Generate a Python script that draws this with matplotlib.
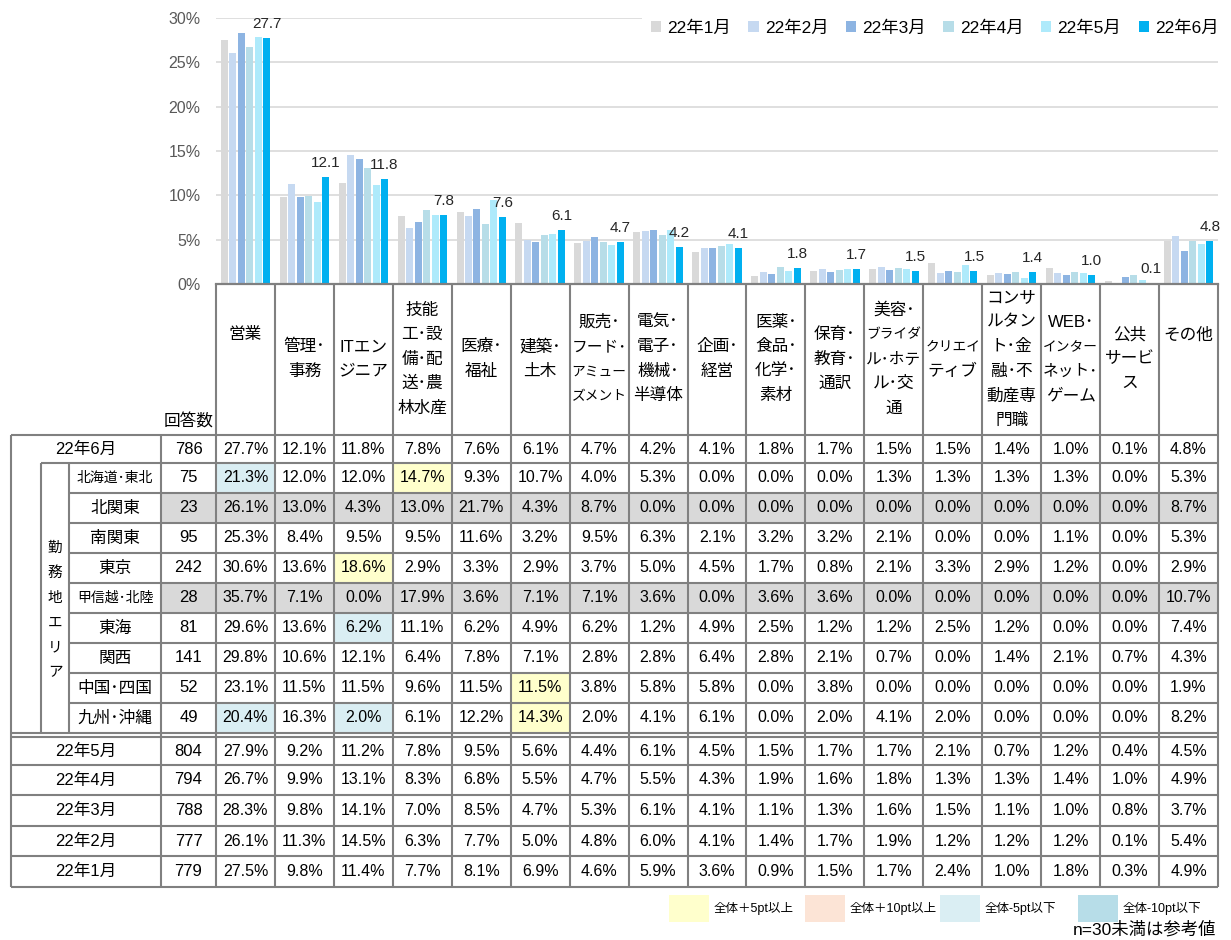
import numpy as np
import matplotlib
matplotlib.use("Agg")
import matplotlib.pyplot as plt
from matplotlib.patches import Rectangle

plt.rcParams['font.family'] = ['Liberation Sans', 'Noto Sans CJK JP']

# ---- data ----
categories = ["営業", "管理･\n事務", "ITエン\nジニア", "技能\n工･設\n備･配\n送･農\n林水産",
              "医療･\n福祉", "建築･\n土木", "販売･\nフード･\nアミュー\nズメント",
              "電気･\n電子･\n機械･\n半導体", "企画･\n経営", "医薬･\n食品･\n化学･\n素材",
              "保育･\n教育･\n通訳", "美容･\nブライダ\nル･ホテ\nル･交\n通", "クリエイ\nティブ",
              "コンサ\nルタン\nト･金\n融･不\n動産専\n門職", "WEB･\nインター\nネット･\nゲーム",
              "公共\nサービ\nス", "その他"]

months = ["22年1月", "22年2月", "22年3月", "22年4月", "22年5月", "22年6月"]
month_n = [779, 777, 788, 794, 804, 786]
jan = [27.5, 9.8, 11.4, 7.7, 8.1, 6.9, 4.6, 5.9, 3.6, 0.9, 1.5, 1.7, 2.4, 1.0, 1.8, 0.3, 4.9]
feb = [26.1, 11.3, 14.5, 6.3, 7.7, 5.0, 4.8, 6.0, 4.1, 1.4, 1.7, 1.9, 1.2, 1.2, 1.2, 0.1, 5.4]
mar = [28.3, 9.8, 14.1, 7.0, 8.5, 4.7, 5.3, 6.1, 4.1, 1.1, 1.3, 1.6, 1.5, 1.1, 1.0, 0.8, 3.7]
apr = [26.7, 9.9, 13.1, 8.3, 6.8, 5.5, 4.7, 5.5, 4.3, 1.9, 1.6, 1.8, 1.3, 1.3, 1.4, 1.0, 4.9]
may = [27.9, 9.2, 11.2, 7.8, 9.5, 5.6, 4.4, 6.1, 4.5, 1.5, 1.7, 1.7, 2.1, 0.7, 1.2, 0.4, 4.5]
jun = [27.7, 12.1, 11.8, 7.8, 7.6, 6.1, 4.7, 4.2, 4.1, 1.8, 1.7, 1.5, 1.5, 1.4, 1.0, 0.1, 4.8]
monthly = [jan, feb, mar, apr, may, jun]
colors = ["#D9D9D9", "#C6D9F1", "#8DB4E2", "#B7DDE8", "#AEEAFB", "#00B0F0"]

regions = ["北海道･東北", "北関東", "南関東", "東京", "甲信越･北陸", "東海", "関西", "中国･四国", "九州･沖縄"]
region_n = [75, 23, 95, 242, 28, 81, 141, 52, 49]
region_vals = [
    [21.3, 12.0, 12.0, 14.7, 9.3, 10.7, 4.0, 5.3, 0.0, 0.0, 0.0, 1.3, 1.3, 1.3, 1.3, 0.0, 5.3],
    [26.1, 13.0, 4.3, 13.0, 21.7, 4.3, 8.7, 0.0, 0.0, 0.0, 0.0, 0.0, 0.0, 0.0, 0.0, 0.0, 8.7],
    [25.3, 8.4, 9.5, 9.5, 11.6, 3.2, 9.5, 6.3, 2.1, 3.2, 3.2, 2.1, 0.0, 0.0, 1.1, 0.0, 5.3],
    [30.6, 13.6, 18.6, 2.9, 3.3, 2.9, 3.7, 5.0, 4.5, 1.7, 0.8, 2.1, 3.3, 2.9, 1.2, 0.0, 2.9],
    [35.7, 7.1, 0.0, 17.9, 3.6, 7.1, 7.1, 3.6, 0.0, 3.6, 3.6, 0.0, 0.0, 0.0, 0.0, 0.0, 10.7],
    [29.6, 13.6, 6.2, 11.1, 6.2, 4.9, 6.2, 1.2, 4.9, 2.5, 1.2, 1.2, 2.5, 1.2, 0.0, 0.0, 7.4],
    [29.8, 10.6, 12.1, 6.4, 7.8, 7.1, 2.8, 2.8, 6.4, 2.8, 2.1, 0.7, 0.0, 1.4, 2.1, 0.7, 4.3],
    [23.1, 11.5, 11.5, 9.6, 11.5, 11.5, 3.8, 5.8, 5.8, 0.0, 3.8, 0.0, 0.0, 0.0, 0.0, 0.0, 1.9],
    [20.4, 16.3, 2.0, 6.1, 12.2, 14.3, 2.0, 4.1, 6.1, 0.0, 2.0, 4.1, 2.0, 0.0, 0.0, 0.0, 8.2],
]
hl_labels = ["全体＋5pt以上", "全体＋10pt以上", "全体-5pt以下", "全体-10pt以下"]
hl_colors = ["#FFFFCC", "#FCE4D6", "#DAEEF3", "#B7DDE8"]

# ---- layout (pixels) ----
W, H = 1231, 940
x_left, x_area, x_lbl, x_n, x_c0, x_right = 11, 41, 69, 161, 216, 1218
ncat = len(categories)
cw = (x_right - x_c0) / ncat
y_axis, y_top = 284, 18
top_edges = [435, 463, 493, 523, 553, 583, 613, 643, 673, 703, 733]
bot_edges = [737, 765, 795, 826, 856, 887]
LC = "#808080"

fig = plt.figure(figsize=(W / 100, H / 100), dpi=100)
tab = fig.add_axes([0, 0, 1, 1])
tab.set_xlim(0, W)
tab.set_ylim(H, 0)
tab.axis('off')

# ---- bar chart ----
ax = fig.add_axes([x_c0 / W, 1 - y_axis / H, (x_right - x_c0) / W, (y_axis - y_top) / H])
ax.set_facecolor('none')
x = np.arange(ncat)
step, bw = 0.144, 0.119
for j, (vals, c, lab) in enumerate(zip(monthly, colors, months)):
    ax.bar(x + (j - 2.5) * step, vals, bw, color=c, label=lab, zorder=2)
for i, v in enumerate(jun):
    ax.annotate(f"{v:.1f}", (x[i] + 2.5 * step, v), xytext=(0, 5), textcoords='offset points',
                ha='center', va='bottom', fontsize=11, color="#262626")
ax.set_xlim(-0.5, ncat - 0.5)
ax.set_ylim(0, 30)
ax.set_yticks(range(0, 31, 5))
ax.set_yticklabels([f"{t}%" for t in range(0, 31, 5)])
ax.tick_params(axis='y', length=0, pad=11, labelsize=11.5, labelcolor="#595959")
ax.set_xticks([])
ax.grid(axis='y', color="#D9D9D9", lw=1.2)
ax.set_axisbelow(True)
for s in ['top', 'left', 'right']:
    ax.spines[s].set_visible(False)
ax.spines['bottom'].set_color(LC)
ax.spines['bottom'].set_linewidth(1.6)
leg = ax.legend(loc='center right', bbox_to_anchor=(1236 / W, 1 - 28 / H), bbox_transform=fig.transFigure,
                ncol=6, frameon=True, fontsize=12.5, handlelength=0.6, handleheight=0.6,
                handletextpad=0.35, columnspacing=1.0, borderpad=0.5)
leg.get_frame().set_facecolor('white')
leg.get_frame().set_edgecolor('none')
leg.get_frame().set_alpha(1)


# ---- table ----
def hline(y, x0, x1=x_right):
    tab.plot([x0, x1], [y, y], color=LC, lw=1.5, solid_capstyle='butt', zorder=3)


def vline(xx, y0, y1):
    tab.plot([xx, xx], [y0, y1], color=LC, lw=1.5, solid_capstyle='butt', zorder=3)


def cell_x(i):
    return x_c0 + (i + 0.5) * cw


def fit_size(s, max_px=55, base=12):
    units = sum(0.6 if ord(ch) < 0x3000 else (0.5 if 0xFF61 <= ord(ch) <= 0xFF9F else 1) for ch in s)
    return min(base, max_px / (units * 1.389))


# header
for i, cat in enumerate(categories):
    lines = cat.split("\n")
    n = len(lines)
    for k, ln in enumerate(lines):
        yy = 335 if n == 1 else 359 + (k - (n - 1) / 2) * 24.5
        tab.text(cell_x(i), yy, ln, ha='center', va='center', fontsize=fit_size(ln))
tab.text((x_n + x_c0) / 2, 421, "回答数", ha='center', va='center', fontsize=12)

# rows: total for June, regions, then previous months
rows = [(months[5], month_n[5], jun, 'month')]
rows += [(r, nn, v, 'region') for r, nn, v in zip(regions, region_n, region_vals)]
rows += [(months[m], month_n[m], monthly[m], 'month') for m in [4, 3, 2, 1, 0]]
ys = list(zip(top_edges[:-1], top_edges[1:])) + list(zip(bot_edges[:-1], bot_edges[1:]))

for (name, nn, vals, kind), (y0, y1) in zip(rows, ys):
    yc = (y0 + y1) / 2
    if kind == 'region' and nn < 30:
        tab.add_patch(Rectangle((x_n, y0), x_right - x_n, y1 - y0, fc="#D9D9D9", ec='none', zorder=1))
    if kind == 'region' and nn >= 30:
        for i, v in enumerate(vals):
            d = round(v - jun[i], 1)
            c = None
            if d >= 10:
                c = hl_colors[1]
            elif d >= 5:
                c = hl_colors[0]
            elif d <= -10:
                c = hl_colors[3]
            elif d <= -5:
                c = hl_colors[2]
            if c:
                tab.add_patch(Rectangle((x_c0 + i * cw, y0), cw, y1 - y0, fc=c, ec='none', zorder=1))
    if kind == 'month':
        tab.text((x_left + x_n) / 2, yc, name, ha='center', va='center', fontsize=12)
    else:
        fs = 10 if len(name) > 5 else 12
        tab.text((x_lbl + x_n) / 2, yc, name, ha='center', va='center', fontsize=fs)
    tab.text((x_n + x_c0) / 2, yc, str(nn), ha='center', va='center', fontsize=12)
    for i, v in enumerate(vals):
        tab.text(cell_x(i), yc, f"{v:.1f}%", ha='center', va='center', fontsize=11.5)

for k, ch in enumerate("勤務地エリア"):
    tab.text((x_area + x_lbl) / 2, 548 + k * 24.8, ch, ha='center', va='center', fontsize=10.5)

# grid lines
hline(top_edges[0], x_left)
hline(top_edges[1], x_area)
for y in top_edges[2:-1]:
    hline(y, x_lbl)
hline(top_edges[-1], x_left)
for y in bot_edges:
    hline(y, x_left)
vline(x_left, top_edges[0], bot_edges[-1])
vline(x_area, top_edges[1], top_edges[-1])
vline(x_lbl, top_edges[1], top_edges[-1])
vline(x_n, top_edges[0], bot_edges[-1])
for i in range(ncat + 1):
    vline(x_c0 + i * cw, y_axis, bot_edges[-1])

# highlight legend
sw_x = [669, 805, 940, 1078]
for sx, lab, c in zip(sw_x, hl_labels, hl_colors):
    tab.add_patch(Rectangle((sx, 895), 40, 27, fc=c, ec='none'))
    tab.text(sx + 45, 908.5, lab, ha='left', va='center', fontsize=9)
tab.text(1216, 929, "n=30未満は参考値", ha='right', va='center', fontsize=12.5)

fig.savefig("out.png", dpi=100)
